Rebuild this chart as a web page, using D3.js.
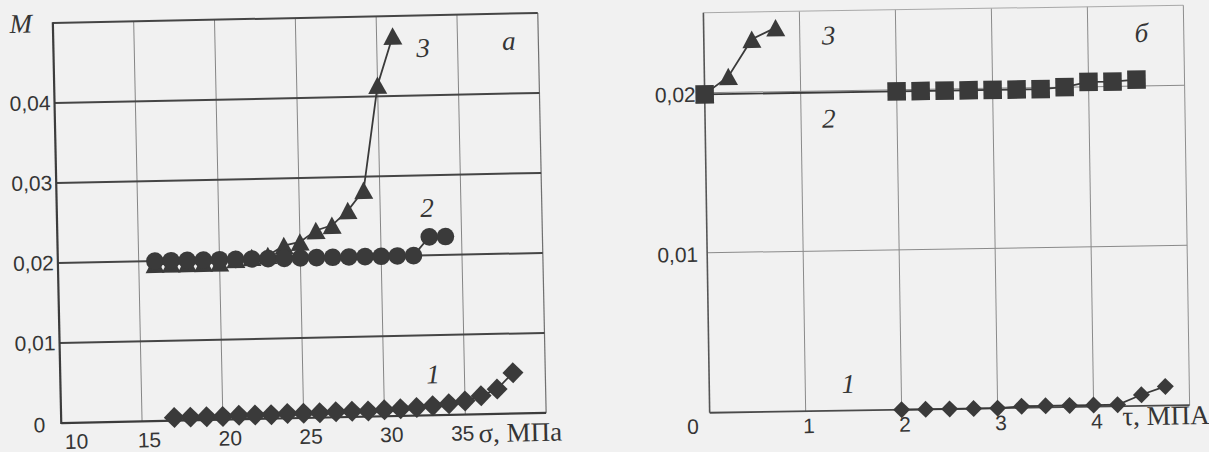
<!DOCTYPE html>
<html>
<head>
<meta charset="utf-8">
<script src="https://cdn.jsdelivr.net/npm/d3@7"></script>
<style>
  body { margin: 0; background: #f1f1f1; }
  svg { display: block; }
  .tick { font-family: "Liberation Sans", Arial, sans-serif; font-size: 21px; fill: #353535; }
  .note { font-family: "Liberation Serif", "Times New Roman", serif; font-style: italic; font-size: 27px; fill: #353535; }
  .name { font-family: "Liberation Serif", "Times New Roman", serif; font-size: 27px; fill: #353535; }
</style>
</head>
<body>
<svg id="chart" width="1209" height="452"></svg>
<script>
// ---- panel a: M vs sigma ----
const sigma1 = [17, 18, 19, 20, 21, 22, 23, 24, 25, 26, 27, 28, 29, 30, 31, 32, 33, 34, 35, 36, 37, 38];
const m1 = [0.0004, 0.0004, 0.0004, 0.0004, 0.0005, 0.0005, 0.0005, 0.0006, 0.0006, 0.0006, 0.0007,
  0.0007, 0.0007, 0.0008, 0.0009, 0.001, 0.0012, 0.0014, 0.0017, 0.0023, 0.0031, 0.0051];
const sigma2 = [16, 17, 18, 19, 20, 21, 22, 23, 24, 25, 26, 27, 28, 29, 30, 31, 32, 33, 34];
const m2 = [0.02, 0.02, 0.02, 0.02, 0.02, 0.02, 0.02, 0.02, 0.02, 0.02, 0.02, 0.02, 0.02, 0.02,
  0.02, 0.02, 0.02, 0.0223, 0.0223];
const sigma3 = [16, 17, 18, 19, 20, 21, 22, 23, 24, 25, 26, 27, 28, 29, 30, 31];
const m3 = [0.0196, 0.0196, 0.0196, 0.0196, 0.0196, 0.02, 0.0202, 0.0204, 0.0216, 0.022, 0.0234,
  0.024, 0.0258, 0.0283, 0.0414, 0.0475];
const sigmaGrid = [15, 20, 25, 30, 35];
const sigmaLabels = [10, 15, 20, 25, 30, 35];
const mGridA = [0.01, 0.02, 0.03, 0.04];
const mLabelsA = [[0, '0'], [0.01, '0,01'], [0.02, '0,02'], [0.03, '0,03'], [0.04, '0,04']];

// ---- panel б: M vs tau ----
const tau1 = [2, 2.25, 2.5, 2.75, 3, 3.25, 3.5, 3.75, 4, 4.25, 4.5, 4.75];
const n1 = [0, 0, 0, 0, 0, 0.0001, 0.0001, 0.0001, 0.0001, 0.0001, 0.0007, 0.0012];
const tau2 = [0, 2, 2.25, 2.5, 2.75, 3, 3.25, 3.5, 3.75, 4, 4.25, 4.5];
const n2 = [0.0199, 0.0199, 0.0199, 0.0199, 0.0199, 0.0199, 0.0199, 0.0199, 0.02, 0.0203, 0.0203, 0.0204];
const tau3 = [0, 0.25, 0.5, 0.75];
const n3 = [0.0199, 0.021, 0.0233, 0.024];
const tauGrid = [1, 2, 3, 4];
const tauLabels = [1, 2, 3, 4];
const mGridB = [0.01, 0.02];
const mLabelsB = [[0, '0'], [0.01, '0,01'], [0.02, '0,02']];

const ink = '#3a3a3a';
const svg = d3.select('#chart');

// excel-like marker shapes
const diamond = { draw(ctx, size) { const r = Math.sqrt(size) / 2; ctx.moveTo(0, -r); ctx.lineTo(r, 0); ctx.lineTo(0, r); ctx.lineTo(-r, 0); ctx.closePath(); } };
const triangle = { draw(ctx, size) { const s = Math.sqrt(size), h = s * 0.92; ctx.moveTo(0, -h / 2); ctx.lineTo(s / 2, h / 2); ctx.lineTo(-s / 2, h / 2); ctx.closePath(); } };

function series(g, xs, ys, x, y, type, size) {
  const pts = xs.map((v, i) => [x(v), y(ys[i])]);
  g.append('path')
    .attr('d', d3.line()(pts))
    .attr('fill', 'none')
    .attr('stroke', ink)
    .attr('stroke-width', 1.8);
  g.selectAll(null).data(pts).enter().append('path')
    .attr('transform', d => `translate(${d[0]},${d[1]})`)
    .attr('d', d3.symbol(type, size))
    .attr('fill', ink);
}

function hline(g, x0, x1, yy, color, w) {
  g.append('line').attr('x1', x0).attr('x2', x1).attr('y1', yy).attr('y2', yy)
    .attr('stroke', color).attr('stroke-width', w);
}
function vline(g, xx, y0, y1, color, w) {
  g.append('line').attr('x1', xx).attr('x2', xx).attr('y1', y0).attr('y2', y1)
    .attr('stroke', color).attr('stroke-width', w);
}

// ---------- panel a ----------
{
  const x = d3.scaleLinear().domain([10, 40]).range([57, 542]);
  const y = d3.scaleLinear().domain([0, 0.05]).range([418, 18]);
  const g = svg.append('g').attr('transform', 'rotate(-1.2 299.5 218)');
  const [xa, xb] = x.range();
  const [yb, ya] = y.range();

  sigmaGrid.forEach(v => vline(g, x(v), ya, yb, '#858585', 1));
  vline(g, xb, ya, yb, '#707070', 1.2);
  mGridA.forEach(v => hline(g, xa, xb, y(v), '#454545', 2));
  hline(g, xa, xb, ya, '#454545', 2);
  vline(g, xa, ya - 1, yb + 1, '#3c3c3c', 2.2);
  hline(g, xa, xb, yb, '#3c3c3c', 2.2);

  series(g, sigma3, m3, x, y, triangle, 19 * 19);
  series(g, sigma2, m2, x, y, d3.symbolCircle, Math.PI * 8.8 * 8.8);
  series(g, sigma1, m1, x, y, diamond, 21 * 21);

  g.selectAll(null).data(mLabelsA).enter().append('text')
    .attr('class', 'tick')
    .attr('text-anchor', 'end')
    .attr('x', d => xa - (d[0] === 0 ? 16 : 4))
    .attr('y', d => y(d[0]) + (d[0] === 0 ? 9 : 7))
    .text(d => d[1]);
  g.selectAll(null).data(sigmaLabels).enter().append('text')
    .attr('class', 'tick')
    .attr('text-anchor', 'middle')
    .attr('x', d => x(d) + (d === 10 ? 15 : d === 35 ? -3 : 7))
    .attr('y', yb + 26)
    .text(d => d);

  g.append('text').attr('class', 'name').attr('x', 474).attr('y', yb + 28).text('σ, МПа');
  g.append('text').attr('class', 'note').attr('font-size', 24).attr('text-anchor', 'middle')
    .attr('x', 25).attr('y', 27).text('M');

  const notes = [['3', 32.86, 0.0448], ['a', 38.18, 0.04545], ['2', 32.9, 0.0248], ['1', 33.05, 0.004]];
  g.selectAll(null).data(notes).enter().append('text')
    .attr('class', 'note').attr('text-anchor', 'middle')
    .attr('x', d => x(d[1])).attr('y', d => y(d[2]))
    .text(d => d[0]);
}

// ---------- panel б ----------
{
  const x = d3.scaleLinear().domain([0, 5]).range([706.5, 1186.5]);
  const y = d3.scaleLinear().domain([0, 0.025]).range([409, 9]);
  const g = svg.append('g').attr('transform', 'rotate(-0.9 946.5 209)');
  const [xa, xb] = x.range();
  const [yb, ya] = y.range();

  tauGrid.forEach(v => vline(g, x(v), ya, yb, '#8a8a8a', 1));
  mGridB.forEach(v => hline(g, xa, xb, y(v), '#8a8a8a', 1));
  hline(g, xa, xb, ya, '#a8a8a8', 1);
  vline(g, xb, ya, yb, '#8e8e8e', 1);
  vline(g, xa, ya, yb, '#555', 1.6);
  hline(g, xa, xb, yb, '#4a4a4a', 1.8);

  series(g, tau3, n3, x, y, triangle, 19 * 19);
  series(g, tau2, n2, x, y, d3.symbolSquare, 18.5 * 18.5);
  series(g, tau1, n1, x, y, diamond, 17 * 17);

  g.selectAll(null).data(mLabelsB).enter().append('text')
    .attr('class', 'tick')
    .attr('text-anchor', 'end')
    .attr('x', d => xa - (d[0] === 0 ? 11 : 9))
    .attr('y', d => y(d[0]) + (d[0] === 0 ? 21 : 9))
    .text(d => d[1]);
  g.selectAll(null).data(tauLabels).enter().append('text')
    .attr('class', 'tick')
    .attr('text-anchor', 'middle')
    .attr('x', d => x(d) + 3)
    .attr('y', yb + 22)
    .text(d => d);

  g.append('text').attr('class', 'name').attr('font-size', 24).attr('x', 1119).attr('y', yb + 19).text('τ, МПА');

  const notes = [['3', 1.3, 0.0229], ['2', 1.29, 0.0177], ['б', 4.56, 0.02275], ['1', 1.45, 0.0011]];
  g.selectAll(null).data(notes).enter().append('text')
    .attr('class', 'note').attr('text-anchor', 'middle')
    .attr('x', d => x(d[1])).attr('y', d => y(d[2]))
    .text(d => d[0]);
}
</script>
</body>
</html>
